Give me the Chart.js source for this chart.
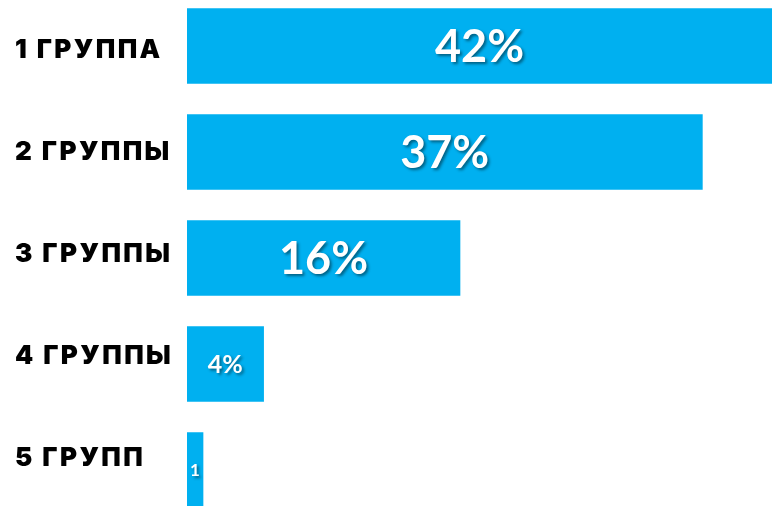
<!DOCTYPE html>
<html>
<head>
<meta charset="utf-8">
<script src="https://cdn.jsdelivr.net/npm/chart.js@4"></script>
<style>
  html, body { margin: 0; padding: 0; background: #ffffff; overflow: hidden; }
  body { width: 772px; height: 506px; position: relative; }
  #wrap { position: absolute; left: 0; top: -7px; width: 772px; height: 530px; }
</style>
</head>
<body>
<div id="wrap"><canvas id="c"></canvas></div>
<script>
// Categories (groups)
const categories = ["1 ГРУППА", "2 ГРУППЫ", "3 ГРУППЫ", "4 ГРУППЫ", "5 ГРУПП"];
// Bar lengths as drawn in the picture (the bars are not strictly proportional to their labels)
const barValues = [42, 37, 19.6, 5.5, 1.15];
// Labels printed inside the bars
const valueLabels = ["42%", "37%", "16%", "4%", "1"];

const labelFontSizes = [45, 45, 45, 25, 17];

const spacingPlugin = {
  id: 'tickSpacing',
  beforeDraw(chart) { chart.ctx.letterSpacing = '2.4px'; },
  beforeDatasetsDraw(chart) { chart.ctx.letterSpacing = '0px'; }
};

const valueLabelPlugin = {
  id: 'valueLabels',
  afterDatasetsDraw(chart) {
    const ctx = chart.ctx;
    const meta = chart.getDatasetMeta(0);
    meta.data.forEach((bar, i) => {
      const cx = (bar.x + bar.base) / 2;
      const cy = bar.y;
      ctx.save();
      ctx.letterSpacing = '0px';
      ctx.font = 'bold ' + labelFontSizes[i] + 'px "Lato", "DejaVu Sans", sans-serif';
      ctx.textAlign = 'center';
      ctx.textBaseline = 'middle';
      ctx.shadowColor = 'rgba(0,0,0,0.45)';
      ctx.shadowOffsetX = 2;
      ctx.shadowOffsetY = 2;
      ctx.shadowBlur = 3;
      ctx.fillStyle = '#ffffff';
      ctx.fillText(valueLabels[i], cx, cy + 1);
      ctx.restore();
    });
  }
};

new Chart(document.getElementById('c'), {
  type: 'bar',
  data: {
    labels: categories,
    datasets: [{
      data: barValues,
      backgroundColor: '#00B0F0',
      borderWidth: 0,
      barThickness: 75,
      categoryPercentage: 1,
      barPercentage: 1,
      yAxisID: 'y'
    }]
  },
  options: {
    indexAxis: 'y',
    responsive: true,
    maintainAspectRatio: false,
    animation: false,
    layout: { padding: { left: 15, right: 0, top: 0, bottom: 0 } },
    plugins: { legend: { display: false }, tooltip: { enabled: false } },
    scales: {
      x: {
        display: false,
        min: 0,
        max: 42
      },
      y: {
        display: false
      },
      yLabels: {
        type: 'linear',
        position: 'left',
        reverse: true,
        offset: false,
        bounds: 'data',
        min: -0.559,
        max: 4.637,
        grid: { display: false, drawTicks: false, offset: false },
        border: { display: false },
        afterBuildTicks(scale) {
          scale.ticks = categories.map((c, i) => ({ value: i }));
        },
        ticks: {
          crossAlign: 'far',
          padding: 0,
          color: '#000000',
          font: { family: '"Inter", "DejaVu Sans", sans-serif', weight: 900, size: 26 },
          callback: (v) => categories[v]
        },
        afterFit(scale) {
          scale.width = 172;
          scale.paddingTop = 0;
          scale.paddingBottom = 0;
        }
      }
    }
  },
  plugins: [spacingPlugin, valueLabelPlugin]
});
</script>
</body>
</html>
